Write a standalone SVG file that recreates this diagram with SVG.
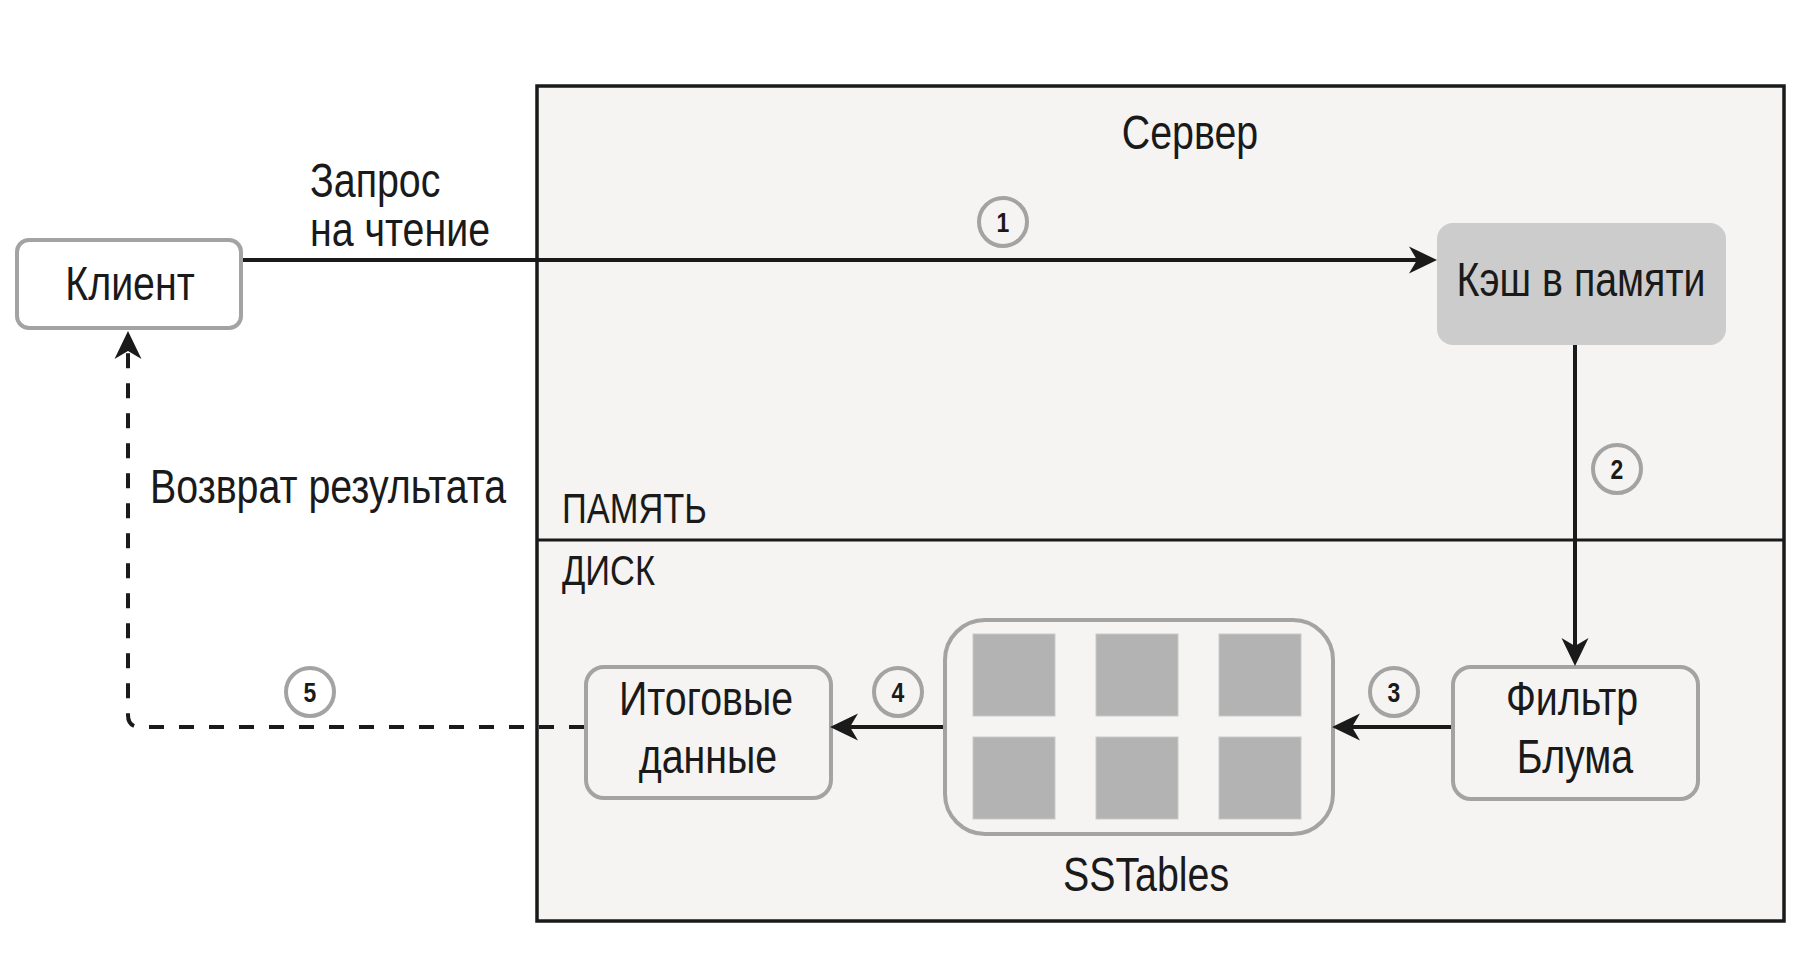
<svg xmlns="http://www.w3.org/2000/svg" width="1816" height="964" viewBox="0 0 1816 964">
<style>
  text { font-family: "Liberation Sans", Arial, sans-serif; fill: #1a1a1a; }
  .t48 { font-size: 48px; }
  .t40 { font-size: 42px; }
  .mid { text-anchor: middle; }
  .num { font-size: 28px; font-weight: bold; text-anchor: middle; }
  .box { stroke: #a3a3a3; stroke-width: 4; }
  .circ { fill: none; stroke: #a3a3a3; stroke-width: 4; }
  .conn { fill: none; stroke: #1a1a1a; stroke-width: 4; }
  .dash { fill: none; stroke: #1a1a1a; stroke-width: 4; stroke-dasharray: 15 15; }
  .sq { fill: #b3b3b3; stroke: #c9c9c9; stroke-width: 1; }
</style>
<defs>
  <marker id="arr" markerUnits="userSpaceOnUse" viewBox="0 0 28 28" markerWidth="28" markerHeight="28" refX="24" refY="14" orient="auto">
    <path d="M28,14 L0,0.5 L8,14 L0,27.5 Z" fill="#1a1a1a"/>
  </marker>
</defs>
<rect width="1816" height="964" fill="#ffffff"/>

<g id="server">
  <rect x="537" y="86" width="1247" height="835" fill="#f5f4f2" stroke="#1a1a1a" stroke-width="3.5"/>
  <line x1="537" y1="540" x2="1784" y2="540" stroke="#1a1a1a" stroke-width="3"/>
  <text class="t48 mid" transform="translate(1190,149) scale(0.82,1)">Сервер</text>
  <text class="t40" transform="translate(562,523) scale(0.82,1)">ПАМЯТЬ</text>
  <text class="t40" transform="translate(562,585) scale(0.82,1)">ДИСК</text>
</g>

<g id="client">
  <rect class="box" x="17" y="240" width="224" height="88" rx="12" fill="#ffffff"/>
  <text class="t48 mid" transform="translate(130,300) scale(0.82,1)">Клиент</text>
</g>

<g id="cache">
  <rect x="1437" y="223" width="289" height="122" rx="16" fill="#cccccc"/>
  <text class="t48 mid" transform="translate(1581,296) scale(0.82,1)">Кэш в памяти</text>
</g>

<g id="bloom">
  <rect class="box" x="1453" y="667" width="245" height="132" rx="18" fill="#f5f4f2"/>
  <text class="t48 mid" transform="translate(1572,715) scale(0.82,1)">Фильтр</text>
  <text class="t48 mid" transform="translate(1575,773) scale(0.82,1)">Блума</text>
</g>

<g id="sstables">
  <rect class="box" x="945" y="620" width="388" height="214" rx="40" fill="#f5f4f2"/>
  <rect class="sq" x="973" y="634" width="82" height="82"/>
  <rect class="sq" x="1096" y="634" width="82" height="82"/>
  <rect class="sq" x="1219" y="634" width="82" height="82"/>
  <rect class="sq" x="973" y="737" width="82" height="82"/>
  <rect class="sq" x="1096" y="737" width="82" height="82"/>
  <rect class="sq" x="1219" y="737" width="82" height="82"/>
  <text class="t48 mid" transform="translate(1146,891) scale(0.82,1)">SSTables</text>
</g>

<g id="result">
  <rect class="box" x="586" y="667" width="245" height="131" rx="18" fill="#f5f4f2"/>
  <text class="t48 mid" transform="translate(706,715) scale(0.82,1)">Итоговые</text>
  <text class="t48 mid" transform="translate(708,773) scale(0.82,1)">данные</text>
</g>

<g id="connectors">
  <path class="conn" d="M243,260 L1433,260" marker-end="url(#arr)"/>
  <path class="conn" d="M1575,345 L1575,662" marker-end="url(#arr)"/>
  <path class="conn" d="M1451,727 L1336,727" marker-end="url(#arr)"/>
  <path class="conn" d="M943,727 L834,727" marker-end="url(#arr)"/>
  <path class="dash" d="M584,727 L140,727 Q128,727 128,715 L128,335" marker-end="url(#arr)"/>
</g>

<g id="labels">
  <text class="t48" transform="translate(310,197) scale(0.82,1)">Запрос</text>
  <text class="t48" transform="translate(310,246) scale(0.82,1)">на чтение</text>
  <text class="t48" transform="translate(150,503) scale(0.82,1)">Возврат результата</text>
  <circle class="circ" cx="1003" cy="222" r="24"/>
  <text class="num" transform="translate(1003,232) scale(0.82,1)">1</text>
  <circle class="circ" cx="1617" cy="469" r="24"/>
  <text class="num" transform="translate(1617,479) scale(0.82,1)">2</text>
  <circle class="circ" cx="1394" cy="692" r="24"/>
  <text class="num" transform="translate(1394,702) scale(0.82,1)">3</text>
  <circle class="circ" cx="898" cy="692" r="24"/>
  <text class="num" transform="translate(898,702) scale(0.82,1)">4</text>
  <circle class="circ" cx="310" cy="692" r="24"/>
  <text class="num" transform="translate(310,702) scale(0.82,1)">5</text>
</g>
</svg>
